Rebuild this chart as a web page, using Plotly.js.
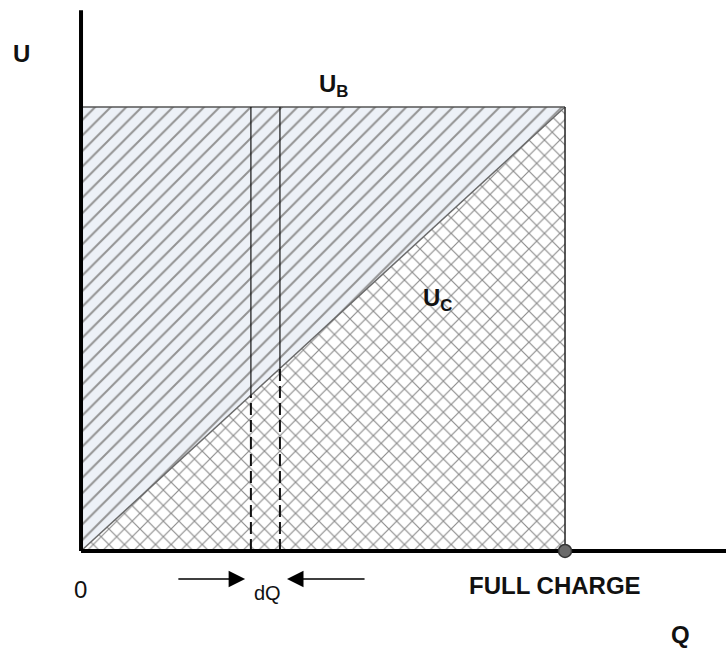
<!DOCTYPE html>
<html>
<head>
<meta charset="utf-8">
<script src="https://cdn.plot.ly/plotly-3.0.1.min.js"></script>
<style>html,body{margin:0;padding:0;background:#fff;}#chart{width:726px;height:648px;}</style>
</head>
<body>
<div id="chart"></div>
<script>
// Charge axis (Q) normalised: 0 = empty, 1 = full charge
const chargeQ = [0, 1];
// Battery voltage U_B (constant) and capacitor voltage U_C (linear)
const voltageUB = [1, 1];
const voltageUC = [0, 1];
// dQ strip boundaries on the Q axis
const stripQ = [0.351, 0.411];
// Axis extents
const qAxisEnd = 1.3326;
const uAxisEnd = 1.218;

const FONT = 'Liberation Sans, Arial, sans-serif';

function uc(q) {
  return voltageUC[0] + (voltageUC[1] - voltageUC[0]) * (q - chargeQ[0]) / (chargeQ[1] - chargeQ[0]);
}

const traces = [];
// Upper triangle (hatched)
traces.push({
  x: [chargeQ[0], chargeQ[0], chargeQ[1], chargeQ[0]],
  y: [voltageUC[0], voltageUB[0], voltageUB[1], voltageUC[0]],
  mode: 'lines', fill: 'toself', fillcolor: '#edf1f7',
  fillpattern: {shape: '/', fgcolor: '#939393', bgcolor: '#edf1f7', size: 11, solidity: 0.18},
  line: {width: 0}, hoverinfo: 'skip', showlegend: false
});
// Lower triangle (cross-hatched)
traces.push({
  x: [chargeQ[0], chargeQ[1], chargeQ[1], chargeQ[0]],
  y: [voltageUC[0], voltageUC[0], voltageUC[1], voltageUC[0]],
  mode: 'lines', fill: 'toself', fillcolor: '#ffffff',
  fillpattern: {shape: 'x', fgcolor: '#8c8c8c', bgcolor: '#ffffff', size: 11, solidity: 0.2},
  line: {width: 0}, hoverinfo: 'skip', showlegend: false
});
// U_B line (top of box)
traces.push({x: chargeQ, y: voltageUB, mode: 'lines', line: {color: '#555', width: 1.5}, hoverinfo: 'skip', showlegend: false});
// U_C diagonal
traces.push({x: chargeQ, y: voltageUC, mode: 'lines', line: {color: '#6a6a6a', width: 1.5}, hoverinfo: 'skip', showlegend: false});
// right edge at full charge
traces.push({x: [chargeQ[1], chargeQ[1]], y: [0, voltageUB[1]], mode: 'lines', line: {color: '#222', width: 1.5}, hoverinfo: 'skip', showlegend: false});
// dQ strip lines
stripQ.forEach(q => {
  traces.push({x: [q, q], y: [uc(q), voltageUB[0]], mode: 'lines', line: {color: '#111', width: 1.2}, hoverinfo: 'skip', showlegend: false});
  traces.push({x: [q, q], y: [0, uc(q)], mode: 'lines', line: {color: '#111', width: 2, dash: '12px,5px'}, hoverinfo: 'skip', showlegend: false});
});
// Axes
traces.push({x: [0, 0], y: [0, uAxisEnd], mode: 'lines', line: {color: '#000', width: 4}, hoverinfo: 'skip', showlegend: false});
traces.push({x: [0, qAxisEnd], y: [0, 0], mode: 'lines', line: {color: '#000', width: 4}, hoverinfo: 'skip', showlegend: false});
// full-charge dot
traces.push({x: [chargeQ[1]], y: [0], mode: 'markers', marker: {size: 13, color: '#6a6a6a', line: {color: '#333', width: 1.5}}, hoverinfo: 'skip', showlegend: false});

const ann = (x, y, text, size, bold) => ({
  x, y, xref: 'x', yref: 'y', text: bold ? '<b>' + text + '</b>' : text, showarrow: false,
  font: {family: FONT, size, color: '#111'}, xanchor: 'center', yanchor: 'middle'
});

const arrowY = -0.063;
const annotations = [
  ann(-0.122, 1.1216, 'U', 24, true),
  ann(0.5207, 1.048, 'U<sub>B</sub>', 24, true),
  ann(0.7355, 0.566, 'U<sub>C</sub>', 24, true),
  ann(-0.001, -0.0878, '0', 24, false),
  ann(0.3853, -0.095, 'dQ', 20, false),
  ann(0.980, -0.0777, 'FULL CHARGE', 24, true),
  ann(1.2387, -0.189, 'Q', 24, true),
  {x: 0.339, y: arrowY, ax: 0.198, ay: arrowY, xref: 'x', yref: 'y', axref: 'x', ayref: 'y', text: '',
   showarrow: true, arrowhead: 2, arrowsize: 2.2, arrowwidth: 1.5, arrowcolor: '#000'},
  {x: 0.4256, y: arrowY, ax: 0.5889, ay: arrowY, xref: 'x', yref: 'y', axref: 'x', ayref: 'y', text: '',
   showarrow: true, arrowhead: 2, arrowsize: 2.2, arrowwidth: 1.5, arrowcolor: '#000'}
];

const layout = {
  width: 726, height: 648,
  margin: {l: 0, r: 0, t: 0, b: 0},
  paper_bgcolor: '#fff', plot_bgcolor: '#fff',
  xaxis: {range: [-0.1674, 1.3326], visible: false, fixedrange: true},
  yaxis: {range: [-0.2185, 1.241], visible: false, fixedrange: true},
  annotations, showlegend: false
};

Plotly.newPlot('chart', traces, layout, {displayModeBar: false, staticPlot: true});
</script>
</body>
</html>
